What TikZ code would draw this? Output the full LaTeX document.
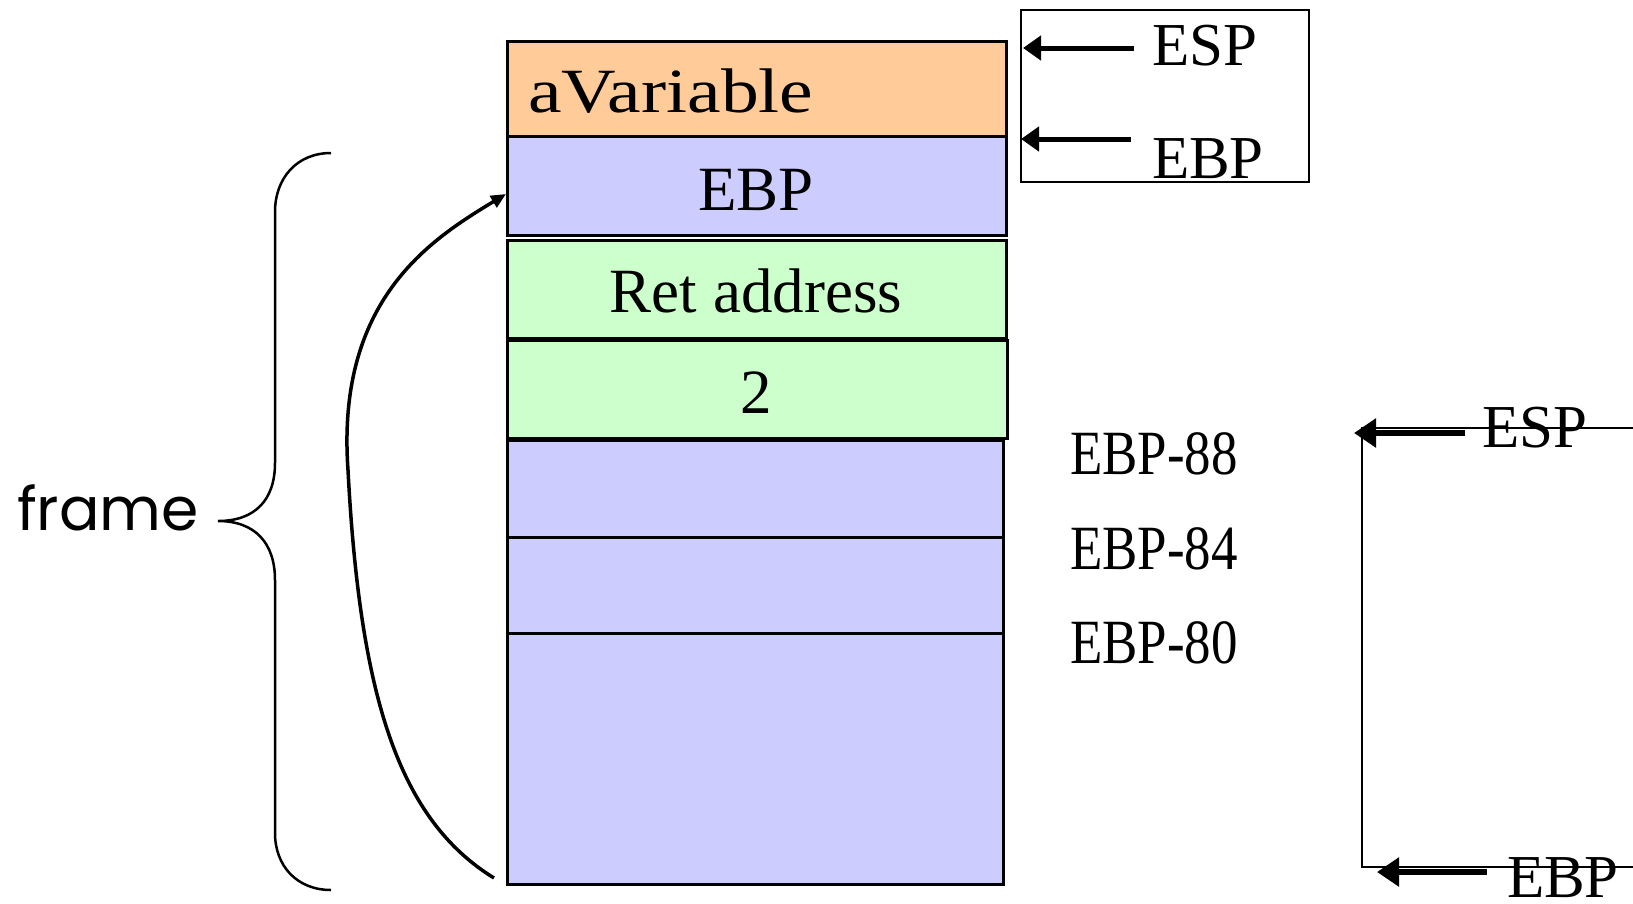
\documentclass[tikz,border=0pt]{standalone}
\usepackage{fontspec}
\setmainfont{Liberation Serif}
\newfontfamily\widefont[FakeStretch=1.2]{Liberation Serif}
\newfontfamily\narrowfont[FakeStretch=0.84]{Liberation Serif}
\newfontfamily\comicfont{Poppins}
\usetikzlibrary{arrows.meta}
\definecolor{orangec}{HTML}{FFCC99}
\definecolor{bluec}{HTML}{CCCCFF}
\definecolor{greenc}{HTML}{CCFFCC}
\begin{document}
\begin{tikzpicture}[x=1pt,y=-1pt,
  cell/.style={draw=black,line width=3pt,inner sep=0pt,outer sep=0pt,anchor=north west},
  txt/.style={inner sep=0pt,outer sep=0pt,font=\fontsize{63}{70}\selectfont},
  reg/.style={inner sep=0pt,outer sep=0pt,anchor=base west,font=\fontsize{61}{70}\selectfont},
  off/.style={inner sep=0pt,outer sep=0pt,anchor=base west,font=\narrowfont\fontsize{63}{70}\selectfont},
  bigarrow/.style={line width=5pt,-{Triangle[length=18pt,width=24pt]}},
  hugearrow/.style={line width=5.5pt,-{Triangle[length=22pt,width=28pt]}},
  thin/.style={line width=2pt}]
\useasboundingbox (0,0) rectangle (1633,903);
% stack cells
\node[cell,fill=orangec,minimum width=499pt,minimum height=94.7pt] (av) at (507,41.7) {};
\node[cell,fill=bluec,minimum width=499pt,minimum height=99pt] (ebp) at (507,136.4) {};
\node[cell,fill=greenc,minimum width=499pt,minimum height=98pt] (ret) at (507,240.6) {};
\node[cell,fill=greenc,minimum width=500pt,minimum height=98pt] (two) at (507,340.6) {};
\node[cell,fill=bluec,minimum width=496pt,minimum height=97pt] (b1) at (507,440.6) {};
\node[cell,fill=bluec,minimum width=496pt,minimum height=96pt] (b2) at (507,537.4) {};
\node[cell,fill=bluec,minimum width=496pt,minimum height=251pt] (b3) at (507,633.2) {};
% cell texts
\node[txt,anchor=base west,font=\widefont\fontsize{63}{70}\selectfont] (tav) at (528,112) {aVariable};
\node[txt,anchor=base] (tebp) at (756,210) {EBP};
\node[txt,anchor=base] (tret) at (756,312.5) {Ret address};
\node[txt,anchor=base] (ttwo) at (756,413.5) {2};
% offsets
\node[off] (o88) at (1070,474) {EBP-88};
\node[off] (o84) at (1070,569) {EBP-84};
\node[off] (o80) at (1070,663.5) {EBP-80};
% register box top right
\node[draw,line width=2pt,inner sep=0pt,anchor=north west,minimum width=288pt,minimum height=171.6pt] (regbox) at (1020,9.4) {};
\node[reg] (esp1) at (1152,65) {ESP};
\node[reg] (ebp1) at (1152,178) {EBP};
\coordinate (espS) at (1134,48);
\coordinate (espT) at (1023,48);
\coordinate (ebpS) at (1131,139);
\coordinate (ebpT) at (1021,139);
\draw[bigarrow] (espS) -- (espT);
\draw[bigarrow] (ebpS) -- (ebpT);
% right side
\coordinate (rt) at (1633,428);
\coordinate (vt) at (1362,428);
\coordinate (vb) at (1362,867);
\coordinate (rb) at (1633,867);
\draw[thin] (rt) -- (vt) -- (vb) -- (rb);
\node[reg] (esp2) at (1482,447) {ESP};
\node[reg] (ebp2) at (1507,897) {EBP};
\coordinate (a1S) at (1465,433);
\coordinate (a1T) at (1354,433);
\coordinate (a2S) at (1487,872);
\coordinate (a2T) at (1377,872);
\draw[hugearrow] (a1S) -- (a1T);
\draw[hugearrow] (a2S) -- (a2T);
% brace
\draw[line width=2.5pt] (331,153) .. controls (297,153) and (275,178) .. (275,212) -- (275,463) .. controls (275,500) and (255,521) .. (218,521) .. controls (255,521) and (275,543) .. (275,580) -- (275,833) .. controls (275,866) and (297,890) .. (331,890);
\node[inner sep=0pt,anchor=base west,font=\comicfont\fontsize{60}{70}\selectfont] (frame) at (17,530) {frame};
% curved arrow
\coordinate (cs) at (494,878);
\coordinate (ct) at (506,194);
\draw[line width=3.5pt,-{Triangle[length=15pt,width=13pt]}] (cs) .. controls (400,820) and (360,700) .. (348,470) .. controls (336,300) and (430,240) .. (ct);
\end{tikzpicture}
\end{document}
